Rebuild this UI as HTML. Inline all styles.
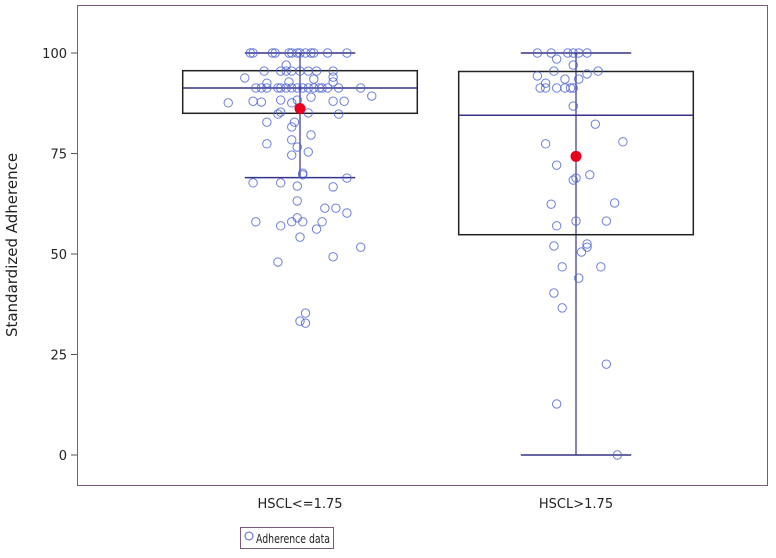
<!DOCTYPE html>
<html><head><meta charset="utf-8"><style>
body{margin:0;background:#fff;width:776px;height:553px;overflow:hidden}
svg text{font-family:"DejaVu Sans","Liberation Sans",sans-serif}
</style></head><body>
<svg id="chart" width="776" height="553" xmlns="http://www.w3.org/2000/svg">
<rect x="77.5" y="5.5" width="690" height="480" fill="none" stroke="#7a5a7a" stroke-width="1"/>
<g id="yaxis"></g>
<text x="17" y="245" font-size="15" text-anchor="middle" transform="rotate(-90 17 245)" fill="#222">Standardized Adherence</text>
<g id="boxes"></g>
<g id="points"></g>
<g id="means"></g>
<g id="xlabels"></g>
<g>
<rect x="240.5" y="527.5" width="93" height="21" fill="#fff" stroke="#7a5a7a"/>
<circle cx="249" cy="536" r="4" fill="none" stroke="#4a5fd0"/>
<text x="256" y="543" font-size="12" textLength="74" lengthAdjust="spacingAndGlyphs" fill="#222">Adherence data</text>
</g>
</svg>
<script>
const categories = ["HSCL<=1.75", "HSCL>1.75"];
const yTicks = [0, 25, 50, 75, 100];
const q1 = [85, 54.8];
const median = [91.3, 84.5];
const q3 = [95.6, 95.4];
const whiskerLow = [69, 0];
const whiskerHigh = [100, 100];
const means = [86.2, 74.3];
const g1Values = [100,100,100,100,100,100,100,100,100,100,100,100,100,97,95.5,95.5,95.5,95.5,95.5,95.5,95.5,95.5,94,93.8,92.5,92.8,93.5,92.8,91.3,91.3,91.3,91.3,91.3,91.3,91.3,91.3,91.3,91.3,91.3,91.3,91.3,91.3,91.3,91.3,89.3,87.6,88,87.8,88.3,87.6,88.3,89,88,88,85.3,84.8,85.1,84.8,82.8,82.8,81.6,79.6,78.4,77.4,76.6,75.4,74.6,69.7,70.1,68.9,67.7,67.7,66.9,66.7,63.2,61.4,61.4,60.2,58,57,58,59,58,58,56.2,54.2,51.7,48,49.3,35.3,33.3,32.8];
const g1Jitter = [-18,-17,-10,-9,-4,-3,-1,0,2,4,5,10,17,-5,-13,-7,-5,-3,0,3,6,12,12,-20,-12,-4,5,12,-16,-14,-12,-8,-7,-5,-3,-1,1,3,5,7,8,10,14,22,26,-26,-17,-14,-7,-3,-1,4,12,16,-7,-8,3,14,-12,-2,-3,4,-3,-12,-1,3,-3,1,1,17,-17,-7,-1,12,-1,9,13,17,-16,-7,-3,-1,1,8,6,0,22,-8,12,2,0,2];
const g2Values = [100,100,100,100,100,100,98.5,97,95.5,95.5,94.8,94.3,93.5,93.5,92.5,91.3,91.3,91.3,91.3,91.3,91.3,86.8,82.3,77.9,77.4,72.1,69.7,68.9,68.4,62.4,62.7,58.2,58.2,57,52,52.5,51.7,50.5,46.8,46.8,44,40.3,36.6,22.6,12.7,0];
const g2Jitter = [-14,-9,-3,-1,1,4,-7,-1,-8,8,4,-14,-4,1,-11,-13,-11,-7,-4,-2,-1,-1,7,17,-11,-7,5,0,-1,-9,14,0,11,-7,-8,4,4,2,-5,9,1,-8,-5,11,-7,15];

const NS = "http://www.w3.org/2000/svg";
function y(v){ return 455 - v * 4.02; }
function x(i, j){ return 300 + (i + (j || 0) / 100) * 276; }
const BOXW = 0.425, CAPW = 0.2;
function mk(tag, attrs, parent){ const e = document.createElementNS(NS, tag); for (const k in attrs) e.setAttribute(k, attrs[k]); parent.appendChild(e); return e; }

const ya = document.getElementById('yaxis');
yTicks.forEach(t => {
  const l = mk('line', {x1:71, x2:77, y1:y(t), y2:y(t), stroke:'#555'}, ya);
  
  
  const tx = mk('text', {x:67, y:y(t)+5, 'font-size':13, 'text-anchor':'end', fill:'#222'}, ya);
  tx.textContent = t;
  
  
});

const bx = document.getElementById('boxes');
const xl = document.getElementById('xlabels');
categories.forEach((c, i) => {
  const cx = x(i), hw = BOXW * 276, cw = CAPW * 276;
  const w = mk('line', {x1:cx, x2:cx, y1:y(whiskerHigh[i]), y2:y(whiskerLow[i]), stroke:'#33338a', 'stroke-width':1.2}, bx);
  
  
  [whiskerHigh[i], whiskerLow[i]].forEach(v => {
    const cap = mk('line', {x1:cx-cw, x2:cx+cw, y1:y(v), y2:y(v), stroke:'#33338a', 'stroke-width':1.5}, bx);
    
    
  });
  const b = mk('rect', {x:cx-hw, y:y(q3[i]), width:2*hw, height:y(q1[i])-y(q3[i]), fill:'none', stroke:'#222', 'stroke-width':1.5}, bx);
  
  
  const m = mk('line', {x1:cx-hw, x2:cx+hw, y1:y(median[i]), y2:y(median[i]), stroke:'#33338a', 'stroke-width':1.5}, bx);
  
  
  const t = mk('text', {x:cx, y:508, 'font-size':13, 'text-anchor':'middle', fill:'#222'}, xl);
  t.textContent = c;
  
  
});

const pg = document.getElementById('points');
[[g1Values, g1Jitter], [g2Values, g2Jitter]].forEach((g, i) => {
  g[0].forEach((v, k) => {
    const p = mk('circle', {cx:x(i, g[1][k]), cy:y(v), r:4.2, fill:'none', stroke:'#4a5fd0', 'stroke-opacity':0.8, 'stroke-width':1}, pg);
    
    
  });
});

const mg = document.getElementById('means');
means.forEach((v, i) => {
  const c = mk('circle', {cx:x(i), cy:y(v), r:5.5, fill:'#e8001c'}, mg);
  
  
});
</script>
</body></html>
